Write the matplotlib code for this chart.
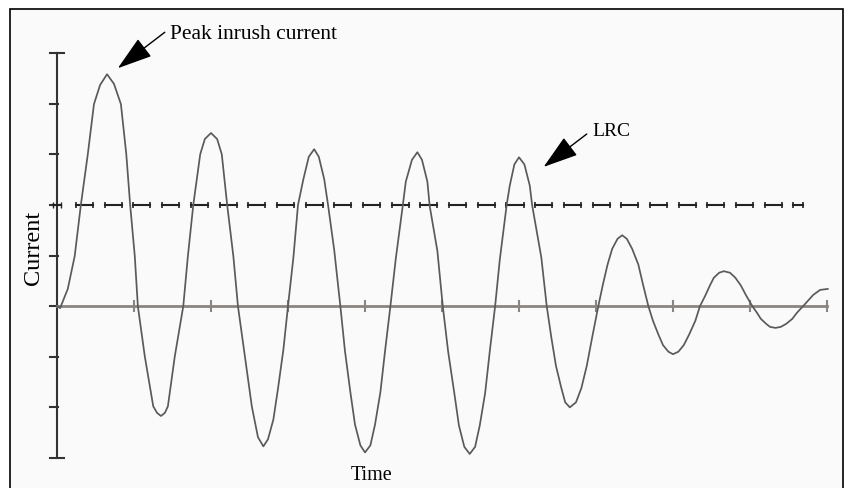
import matplotlib.pyplot as plt
import numpy as np
from matplotlib.patches import Rectangle

# Curva da corrente: tempo e valor
tempo = [0.00, 0.04, 0.14, 0.23, 0.31, 0.40, 0.48, 0.56, 0.65, 0.74, 0.83, 0.90,
         0.95, 1.01, 1.05, 1.14, 1.25, 1.30, 1.35, 1.40, 1.44, 1.53, 1.64, 1.70,
         1.77, 1.86, 1.92, 2.00, 2.08, 2.14, 2.21, 2.29, 2.35, 2.44, 2.53, 2.61,
         2.68, 2.74, 2.81, 2.87, 2.94, 3.00, 3.07, 3.13, 3.20, 3.27, 3.34, 3.40,
         3.47, 3.52, 3.60, 3.68, 3.74, 3.81, 3.87, 3.94, 4.00, 4.07, 4.13, 4.20,
         4.26, 4.33, 4.40, 4.49, 4.53, 4.61, 4.68, 4.74, 4.81, 4.84, 4.94, 5.01,
         5.08, 5.16, 5.22, 5.29, 5.36, 5.43, 5.49, 5.56, 5.62, 5.69, 5.75, 5.84,
         5.88, 5.94, 6.00, 6.07, 6.14, 6.17, 6.29, 6.36, 6.42, 6.48, 6.55, 6.60,
         6.66, 6.74, 6.81, 6.88, 6.95, 7.03, 7.09, 7.15, 7.21, 7.28, 7.34, 7.40,
         7.47, 7.55, 7.61, 7.68, 7.74, 7.81, 7.87, 7.94, 8.00, 8.07, 8.14, 8.21,
         8.29, 8.35, 8.42, 8.48, 8.53, 8.60, 8.66, 8.74, 8.81, 8.88, 8.95, 9.03,
         9.09, 9.14, 9.21, 9.26, 9.33, 9.40, 9.47, 9.55, 9.61, 9.69, 9.82, 9.91,
         10.01]
corrente = [0.00, -0.04, 0.34, 0.99, 2.00, 3.00, 3.99, 4.37, 4.58, 4.39, 3.99, 3.00,
            2.00, 0.99, 0.00, -0.99, -1.98, -2.11, -2.17, -2.11, -1.98, -0.99, 0.00, 0.99,
            2.00, 3.00, 3.30, 3.42, 3.30, 3.00, 2.00, 0.99, 0.00, -0.99, -1.98, -2.59,
            -2.77, -2.63, -2.24, -1.63, -0.86, 0.00, 0.96, 2.00, 2.51, 2.95, 3.10, 2.95,
            2.51, 2.00, 1.11, 0.00, -0.89, -1.70, -2.34, -2.75, -2.89, -2.75, -2.34, -1.70,
            -0.89, 0.00, 0.94, 1.98, 2.46, 2.89, 3.04, 2.89, 2.46, 1.98, 1.09, 0.00,
            -0.90, -1.72, -2.36, -2.78, -2.92, -2.78, -2.36, -1.72, -0.90, 0.00, 0.91, 2.00,
            2.38, 2.80, 2.94, 2.80, 2.38, 2.00, 0.96, 0.00, -0.62, -1.18, -1.62, -1.90,
            -2.00, -1.90, -1.62, -1.18, -0.62, 0.00, 0.43, 0.82, 1.13, 1.33, 1.40, 1.33,
            1.13, 0.82, 0.43, 0.00, -0.29, -0.56, -0.77, -0.90, -0.95, -0.90, -0.77, -0.56,
            -0.29, 0.00, 0.21, 0.41, 0.56, 0.66, 0.69, 0.66, 0.56, 0.41, 0.21, 0.00,
            -0.13, -0.25, -0.35, -0.41, -0.43, -0.41, -0.35, -0.25, -0.13, 0.00, 0.22, 0.32,
            0.34]

nivel_tracejado = 2.0
ticks_y = [-3, -2, -1, 0, 1, 2, 3, 4, 5]
ticks_x = [1, 2, 3, 4, 5, 6, 7, 8, 9, 10]

fonte = ['Liberation Serif', 'DejaVu Serif']

fig = plt.figure(figsize=(8.44, 4.88), dpi=100)
fig.patch.set_facecolor('white')

# moldura da imagem (a borda de baixo fica fora do recorte)
moldura = Rectangle((10 / 844, -0.02), 833 / 844, 1.02 - 9 / 488,
                    transform=fig.transFigure, facecolor='#fafafa',
                    edgecolor='black', linewidth=1.2, zorder=-10)
fig.patches.append(moldura)

ax = fig.add_axes([57 / 844, 30 / 488, 770 / 844, 405 / 488])
ax.set_xlim(0, 10)
ax.set_ylim(-3, 5)
ax.axis('off')

# eixo vertical e suas marcas
ax.plot([0, 0], [-3, 5], color='#333333', lw=1.5, clip_on=False)
for v in ticks_y:
    esq = -0.09
    dir_ = 0.09 if v in (-3, 5) else 0.01
    ax.plot([esq, dir_], [v, v], color='#333333', lw=1.5, clip_on=False)

# eixo horizontal e suas marcas
ax.plot([0, 10], [0, 0], color='#8a8580', lw=2, clip_on=False)
for t in ticks_x:
    ax.plot([t, t], [-0.1, 0.1], color='#8a8580', lw=1.5, clip_on=False)

# linha tracejada com "capas" nas pontas
inicio, periodo, comp, fim = 0.247, 0.3727, 0.221, 9.69
a = inicio
while a < fim:
    b = min(a + comp, fim)
    ax.plot([a, b], [nivel_tracejado] * 2, color='#222222', lw=1.5,
            marker='|', markersize=5, markeredgewidth=1.2, clip_on=False)
    a += periodo
ax.plot([-0.05, 0.05], [nivel_tracejado] * 2, color='#222222', lw=1.5,
        marker='|', markersize=5, clip_on=False)

# curva da corrente
ax.plot(tempo, corrente, color='#5a5a5a', lw=1.25, clip_on=False)

seta = dict(arrowstyle='-|>,head_length=2.2,head_width=0.7', color='black',
            lw=1.0, shrinkA=0, shrinkB=0)
ax.annotate('', xy=(0.79, 4.70), xytext=(1.40, 5.41), arrowprops=seta,
            annotation_clip=False)
ax.text(1.47, 5.36, 'Peak inrush current', family=fonte, fontsize=15.5,
        va='center', ha='left', clip_on=False)
ax.annotate('', xy=(6.32, 2.75), xytext=(6.88, 3.40), arrowprops=seta,
            annotation_clip=False)
ax.text(6.95, 3.44, 'LRC', family=fonte, fontsize=14, va='center',
        ha='left', clip_on=False)

fig.text(33 / 844, 1 - 248 / 488, 'Current', family=fonte, fontsize=17.5,
         rotation=90, va='center', ha='center')
fig.text(372 / 844, 1 - 476 / 488, 'Time', family=fonte, fontsize=14.5,
         va='center', ha='center')

fig.savefig('out.png', dpi=100)
